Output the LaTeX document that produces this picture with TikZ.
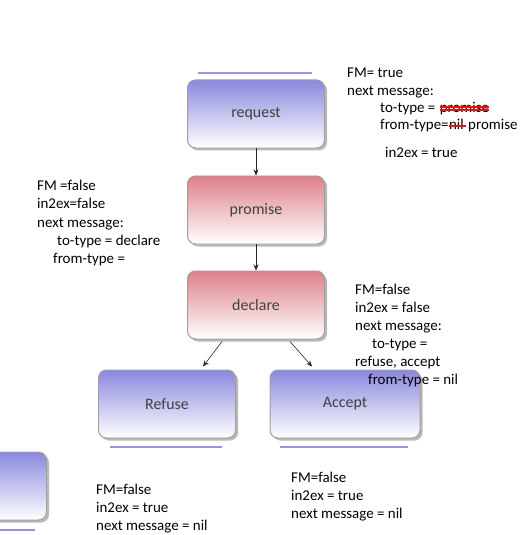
\documentclass[tikz,border=0pt]{standalone}
\usepackage{fontspec}
\setmainfont{Carlito}
\usetikzlibrary{shadows,arrows.meta}
\definecolor{boxblue}{RGB}{138,136,222}
\definecolor{boxred}{RGB}{222,128,138}
\definecolor{barblue}{RGB}{150,148,226}
\definecolor{penred}{RGB}{230,20,20}
\begin{document}
\begin{tikzpicture}
			[x=1bp,y=-1bp,
			state/.style={rectangle,rounded corners=8bp,draw=gray!75,line width=1pt,
				minimum width=137bp,minimum height=68bp,bottom color=white,
				font=\fontsize{16}{18}\selectfont,text=black!75,
				drop shadow={shadow xshift=2.5bp,shadow yshift=-2.5bp,fill=gray!55,opacity=1}},
			bluestate/.style={state,top color=boxblue},
			redstate/.style={state,top color=boxred},
			note/.style={anchor=base west,inner sep=0pt,font=\fontsize{15}{18}\selectfont},
			strike/.style={draw=penred,line width=1.4pt},
			bar/.style={barblue,line width=2.5pt},
			flow/.style={-{Stealth[length=6bp,width=5bp]},gray!30!black,line width=0.6pt}]
		\clip (0,0) rectangle (529,535);
		\fill[white] (0,0) rectangle (529,535);
		% states
		\path node (request) at (256,114) [bluestate] {request}
			  node (promise) at (256,210) [redstate]  {promise}
			  node (declare) at (256,305) [redstate]  {declare}
			  node (refuse)  at (167,404) [bluestate] {Refuse}
			  node (accept)  at (345,404) [bluestate,minimum width=150bp] {Accept}
			  node (other)   at (-22,486) [bluestate] {};
		% bars
		\draw[bar] (198,73) -- (312,73);
		\draw[bar] (110,447) -- (222,447);
		\draw[bar] (280,447) -- (408,447);
		\draw[bar] (0,530) -- (35,530);
		% flow
		\draw[flow] (request) -- (promise);
		\draw[flow] (promise) -- (declare);
		\draw[flow] ([xshift=-34bp,yshift=-2bp]declare.south) -- ([xshift=36bp,yshift=3bp]refuse.north);
		\draw[flow] ([xshift=34bp,yshift=-2bp]declare.south) -- ([xshift=-33bp,yshift=3bp]accept.north);
		% request notes
		\path node (rq1) at (347,78)  [note] {FM= true}
			  node (rq2) at (347,96)  [note] {next message:}
			  node (rq3) at (380,113) [note] {to-type =}
			  node (rq4) at ([xshift=4bp]rq3.base east) [note] {promise}
			  node (rq5) at (380,130) [note] {from-type=}
			  node (rq6) at (rq5.base east) [note] {nil}
			  node (rq7) at (468,130) [note] {promise}
			  node (rq8) at (385,158) [note] {in2ex = true};
		\draw[strike] ([yshift=-1bp]rq4.west) -- ([yshift=-1bp]rq4.east);
		\draw[strike] ([yshift=2bp]rq4.west) -- ([yshift=2bp]rq4.east);
		\draw[strike] ([yshift=-1bp]rq6.west) -- ([xshift=2bp,yshift=-1bp]rq6.east);
		% promise notes
		\path node (pr1) at (37,191)  [note] {FM =false}
			  node (pr2) at (37,209)  [note] {in2ex=false}
			  node (pr3) at (37,227)  [note] {next message:}
			  node (pr4) at (57,245)  [note] {to-type = declare}
			  node (pr5) at (53,263)  [note] {from-type =};
		% declare notes
		\path node (dc1) at (355,294) [note] {FM=false}
			  node (dc2) at (355,312) [note] {in2ex = false}
			  node (dc3) at (355,330) [note] {next message:}
			  node (dc4) at (372,348) [note] {to-type =}
			  node (dc5) at (355,366) [note] {refuse, accept}
			  node (dc6) at (368,384) [note] {from-type = nil};
		% end notes
		\path node (rf1) at (96,494)  [note] {FM=false}
			  node (rf2) at (96,512)  [note] {in2ex = true}
			  node (rf3) at (96,530)  [note] {next message = nil}
			  node (ac1) at (291,482) [note] {FM=false}
			  node (ac2) at (291,500) [note] {in2ex = true}
			  node (ac3) at (291,518) [note] {next message = nil};
		\end{tikzpicture}
\end{document}
